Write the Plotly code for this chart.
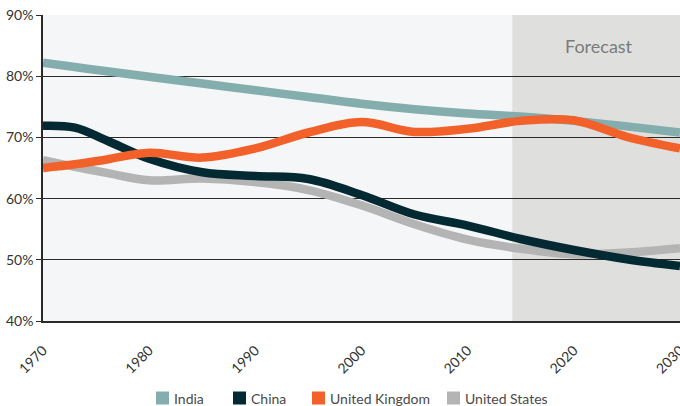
import plotly.graph_objects as go

# Share of population (%) by year
years = [1970, 1973, 1976, 1980, 1985, 1990, 1995, 2000, 2005, 2010, 2015, 2020, 2025, 2030]
india = [82.2, 81.5, 80.8, 79.9, 78.8, 77.7, 76.6, 75.5, 74.6, 73.9, 73.4, 72.7, 71.8, 70.8]
china = [71.9, 71.6, 69.5, 66.5, 64.3, 63.7, 63.2, 60.6, 57.4, 55.6, 53.4, 51.6, 50.1, 49.0]
uk = [65.0, 65.6, 66.4, 67.5, 66.7, 68.2, 70.8, 72.5, 70.9, 71.4, 72.7, 72.8, 70.1, 68.2]
us = [66.3, 65.2, 64.2, 63.0, 63.3, 62.7, 61.4, 58.9, 55.8, 53.3, 51.8, 50.9, 51.2, 51.9]

forecast_start = 2014.2
forecast_end = 2030

series = [
    ("India", india, "#84adad"),
    ("China", china, "#032a33"),
    ("United Kingdom", uk, "#f26129"),
    ("United States", us, "#b3b4b3"),
]

FONT = "Lato, 'Open Sans', sans-serif"
W, H = 680, 406
ML, MR, MT, MB = 43, 0, 15, 85
PW, PH = W - ML - MR, H - MT - MB


def px_x(px):
    return (px - ML) / PW


def px_y(py):
    return (H - MB - py) / PH


fig = go.Figure()

# draw order: India, US, China, UK on top
for name, vals, col in [series[0], series[3], series[1], series[2]]:
    fig.add_trace(go.Scatter(
        x=years, y=vals, mode="lines", name=name,
        line=dict(color=col, width=8.5, shape="spline", smoothing=1.0),
        showlegend=False, hoverinfo="skip", cliponaxis=True,
    ))

fig.add_shape(type="rect", xref="x", yref="y",
              x0=forecast_start, x1=forecast_end, y0=40, y1=90,
              fillcolor="#dfe0de", line=dict(width=0), layer="below")

fig.add_annotation(x=(forecast_start + forecast_end) / 2 + 0.3, y=85,
                   xref="x", yref="y", text="Forecast", showarrow=False,
                   font=dict(family=FONT, size=18, color="#7a7b7b"))

# legend row below the chart: square key + label
legend_left = [156, 233, 312, 447]
key_size = 13
key_mid_y = 398
for (name, _, col), left in zip(series, legend_left):
    fig.add_shape(type="rect", xref="paper", yref="paper",
                  x0=px_x(left), x1=px_x(left + key_size),
                  y0=px_y(key_mid_y + key_size / 2), y1=px_y(key_mid_y - key_size / 2),
                  fillcolor=col, line=dict(width=0))
    fig.add_annotation(xref="paper", yref="paper",
                       x=px_x(left + key_size + 3), y=px_y(key_mid_y),
                       xanchor="left", yanchor="middle", text=name,
                       showarrow=False,
                       font=dict(family=FONT, size=14, color="#4a4a4a"))

fig.update_layout(
    width=W, height=H,
    margin=dict(l=ML, r=MR, t=MT, b=MB, autoexpand=False),
    paper_bgcolor="white",
    plot_bgcolor="#f5f6f8",
    font=dict(family=FONT, size=14, color="#333"),
    showlegend=False,
)

fig.update_xaxes(
    range=[1970, 2030], tickmode="array",
    tickvals=[1970, 1980, 1990, 2000, 2010, 2020, 2030],
    ticktext=["1970", "1980", "1990", "2000", "2010", "2020", "2030"],
    tickangle=-45, showgrid=False, zeroline=False,
    showline=True, linecolor="#2a2a2a", linewidth=1.5,
    ticks="", tickfont=dict(size=14, color="#333"),
    ticklabeloverflow="allow", automargin=False,
    ticklabelstandoff=14,
)

fig.update_yaxes(
    range=[40, 90], tickvals=[40, 50, 60, 70, 80, 90],
    ticktext=["40%", "50%", "60%", "70%", "80%", "90%"],
    showgrid=True, gridcolor="#2a2a2a", gridwidth=1.2,
    zeroline=False, showline=True, linecolor="#2a2a2a", linewidth=1.5,
    ticks="outside", ticklen=5, tickcolor="#2a2a2a", tickwidth=1.2,
    tickfont=dict(size=14, color="#333"), automargin=False,
)

fig.write_html("out.html")
